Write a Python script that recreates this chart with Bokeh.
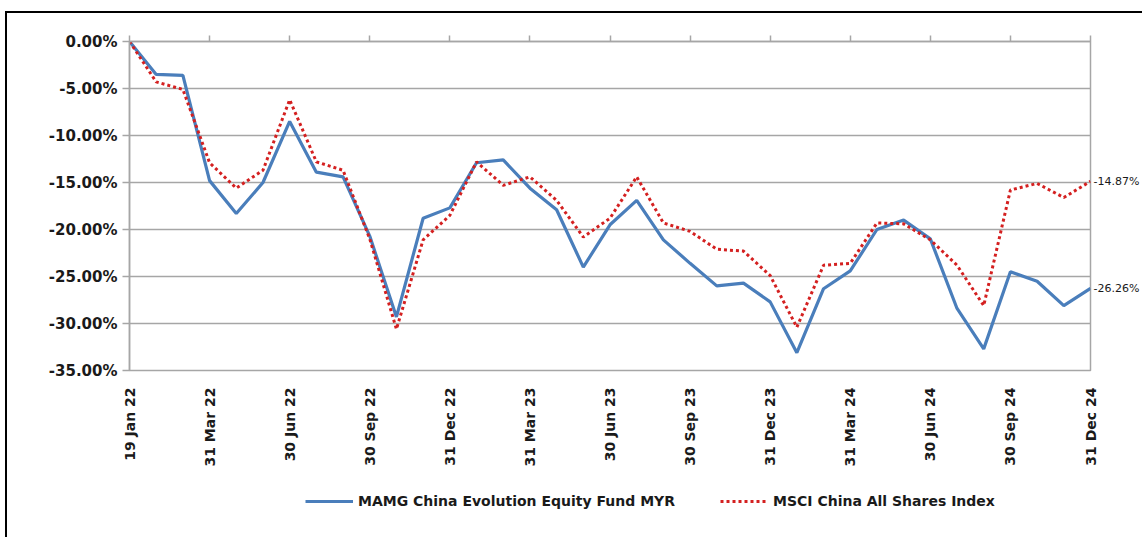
from bokeh.plotting import figure
from bokeh.layouts import column
from bokeh.models import (LinearAxis, FixedTicker, PrintfTickFormatter, Legend, LegendItem,
                          Range1d, Grid, ColumnDataSource)
from bokeh.embed import file_html
from bokeh.resources import INLINE

# ---- data ----
x_idx = list(range(37))
tick_positions = [0, 3, 6, 9, 12, 15, 18, 21, 24, 27, 30, 33, 36]
tick_labels = ["19 Jan 22", "31 Mar 22", "30 Jun 22", "30 Sep 22", "31 Dec 22",
               "31 Mar 23", "30 Jun 23", "30 Sep 23", "31 Dec 23",
               "31 Mar 24", "30 Jun 24", "30 Sep 24", "31 Dec 24"]
fund = [0.0, -3.5, -3.6, -14.8, -18.3, -15.0, -8.5, -13.9, -14.4, -20.7,
        -29.3, -18.8, -17.7, -12.9, -12.6, -15.6, -17.9, -24.0, -19.5, -16.9,
        -21.1, -23.6, -26.0, -25.7, -27.7, -33.1, -26.3, -24.4, -20.0, -19.0,
        -21.0, -28.4, -32.7, -24.5, -25.5, -28.1, -26.26]
index = [0.0, -4.3, -5.1, -12.9, -15.6, -13.7, -6.2, -12.8, -13.7, -21.0,
         -30.6, -21.1, -18.5, -12.8, -15.3, -14.4, -16.9, -20.8, -18.8, -14.4,
         -19.3, -20.2, -22.1, -22.3, -24.9, -30.4, -23.8, -23.6, -19.3, -19.4,
         -21.1, -23.8, -28.1, -15.8, -15.1, -16.6, -14.87]
y_ticks = [0, -5, -10, -15, -20, -25, -30, -35]
fund_name = "MAMG China Evolution Equity Fund MYR"
index_name = "MSCI China All Shares Index"

GRID = "#a6a6a6"
BLUE = "#4a7ebb"
RED = "#d42020"
TXT = "#1a1a1a"

p = figure(width=1135, height=456, output_backend="svg", toolbar_location=None,
           x_range=Range1d(0, 36), y_range=Range1d(-35, 0),
           x_axis_location=None, y_axis_location=None,
           min_border_left=122, min_border_right=51, min_border_top=28,
           min_border_bottom=99)
p.outline_line_color = GRID
p.outline_line_width = 1.5
p.xgrid.visible = False
p.ygrid.visible = False
p.background_fill_color = "white"
p.border_fill_color = "white"

p.add_layout(Grid(dimension=1, ticker=FixedTicker(ticks=y_ticks),
                  grid_line_color=GRID, grid_line_width=1.5))

# left axis
ya = LinearAxis(ticker=FixedTicker(ticks=y_ticks),
                formatter=PrintfTickFormatter(format="%.2f%%"),
                axis_line_color=GRID, axis_line_width=1.5,
                major_tick_line_color=GRID, major_tick_line_width=1.5,
                major_tick_in=0, major_tick_out=7, minor_tick_line_color=None,
                major_label_text_font="DejaVu Sans", major_label_text_font_style="bold",
                major_label_text_font_size="15px", major_label_text_color=TXT,
                major_label_standoff=5)
p.add_layout(ya, "left")

# right axis: end-of-series value labels
end_vals = [index[-1], fund[-1]]
ra = LinearAxis(ticker=FixedTicker(ticks=end_vals),
                major_label_overrides={v: "%.2f%%" % v for v in end_vals},
                axis_line_color=None, major_tick_line_color=None, minor_tick_line_color=None,
                major_tick_out=0, major_tick_in=0,
                major_label_text_font="DejaVu Sans", major_label_text_font_size="11px",
                major_label_text_color=TXT, major_label_standoff=3)
p.add_layout(ra, "right")

# bottom axis (labels only)
xa = LinearAxis(ticker=FixedTicker(ticks=tick_positions),
                major_label_overrides={t: l for t, l in zip(tick_positions, tick_labels)},
                axis_line_color=None, major_tick_line_color=None, minor_tick_line_color=None,
                major_label_orientation=1.5707963,
                major_label_text_font="DejaVu Sans", major_label_text_font_style="bold",
                major_label_text_font_size="14px", major_label_text_color=TXT,
                major_label_standoff=11)
p.add_layout(xa, "below")

# top axis (tick marks only)
ta = LinearAxis(ticker=FixedTicker(ticks=tick_positions),
                major_label_text_font_size="0px", major_label_text_color=None,
                axis_line_color=GRID, axis_line_width=1.5,
                major_tick_line_color=GRID, major_tick_line_width=1.5,
                major_tick_in=0, major_tick_out=6, minor_tick_line_color=None,
                major_label_standoff=0)
p.add_layout(ta, "above")

src = ColumnDataSource(dict(x=x_idx, fund=fund, index=index))
p.line("x", "fund", source=src, line_color=BLUE, line_width=3.2)
p.line("x", "index", source=src, line_color=RED, line_width=3, line_dash="3 3")

# legend strip underneath (series drawn out of view; only the legend shows)
lg = figure(width=1135, height=68, output_backend="svg", toolbar_location=None,
            x_axis_location=None, y_axis_location=None,
            x_range=Range1d(0, 36), y_range=Range1d(100, 101),
            min_border=0)
lg.outline_line_color = None
lg.xgrid.visible = False
lg.ygrid.visible = False
g_fund = lg.line("x", "fund", source=src, line_color=BLUE, line_width=3.2)
g_idx = lg.line("x", "index", source=src, line_color=RED, line_width=3, line_dash="3 3")

legend = Legend(items=[LegendItem(label=fund_name, renderers=[g_fund]),
                       LegendItem(label=index_name, renderers=[g_idx])],
                orientation="horizontal", location=(176, 26),
                glyph_width=48, label_standoff=5, spacing=45, padding=5,
                label_text_font="DejaVu Sans", label_text_font_style="bold",
                label_text_font_size="14px", label_text_color=TXT,
                border_line_color=None, background_fill_alpha=0)
lg.add_layout(legend, "center")

layout = column(p, lg, spacing=0,
                styles={"border-left": "2px solid black", "border-top": "2px solid black",
                        "margin-left": "5px", "margin-top": "11px"})

open("out.html", "w").write(file_html(layout, INLINE))
